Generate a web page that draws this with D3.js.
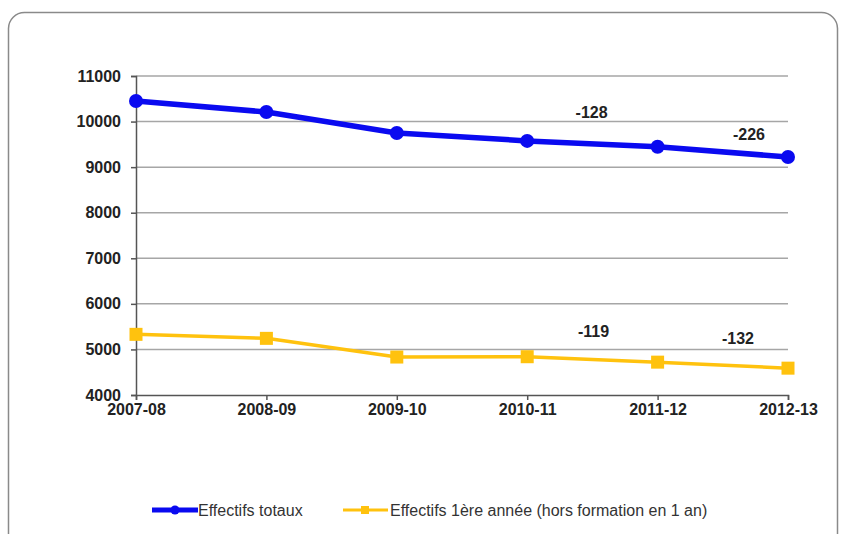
<!DOCTYPE html>
<html><head><meta charset="utf-8">
<script src="https://cdn.jsdelivr.net/npm/d3@7"></script>
<style>body{margin:0;background:#fff;font-family:"Liberation Sans",Arial,sans-serif;}</style>
</head><body>
<svg id="c" width="846" height="534"></svg>
<script>
const categories = ["2007-08","2008-09","2009-10","2010-11","2011-12","2012-13"];
const totalValues = [10452, 10210, 9750, 9576, 9448, 9222];
const firstYearValues = [5331, 5243, 4833, 4840, 4721, 4589];
const yTicks = [4000,5000,6000,7000,8000,9000,10000,11000];
const seriesNames = ["Effectifs totaux","Effectifs 1ère année (hors formation en 1 an)"];
const annotations = [
  {text:"-128", cat:"2011-12", value:10078, dx:-66},
  {text:"-226", cat:"2012-13", value:9596, dx:-39},
  {text:"-119", cat:"2011-12", value:5273, dx:-64},
  {text:"-132", cat:"2012-13", value:5119, dx:-50}
];

const svg = d3.select("#c");
svg.append("rect").attr("x",8.5).attr("y",12.5).attr("width",829).attr("height",540)
  .attr("rx",16).attr("fill","#fff").attr("stroke","#8a8a8a").attr("stroke-width",1.5);

const x = d3.scalePoint().domain(categories).range([136,788]);
const y = d3.scaleLinear().domain([4000,11000]).range([395,76]);
const font = "Liberation Sans, Arial, sans-serif";

svg.append("g").selectAll("line").data(yTicks.filter(d=>d>4000)).join("line")
  .attr("x1",136).attr("x2",788).attr("y1",d=>y(d)).attr("y2",d=>y(d))
  .attr("stroke","#a6a6a6").attr("stroke-width",1.5);

const yAxis = svg.append("g").attr("transform","translate(136,0)")
  .call(d3.axisLeft(y).tickValues(yTicks).tickSize(5).tickPadding(10).tickFormat(d3.format("d")));
yAxis.select(".domain").attr("stroke","#555").attr("stroke-width",1.5);
yAxis.selectAll(".tick line").attr("stroke","#555").attr("stroke-width",1.5);
yAxis.selectAll("text").attr("font-size",16).attr("font-weight","bold").attr("fill","#222")
  .attr("font-family",font);

const xAxis = svg.append("g").attr("transform","translate(0,395)")
  .call(d3.axisBottom(x).tickSize(5).tickPadding(4));
xAxis.select(".domain").attr("stroke","#555").attr("stroke-width",1.5);
xAxis.selectAll(".tick line").attr("stroke","#555").attr("stroke-width",1.5);
xAxis.selectAll("text").attr("font-size",16).attr("font-weight","bold").attr("fill","#222")
  .attr("font-family",font);

const line = d3.line().x((d,i)=>x(categories[i])).y(d=>y(d));
const blue = "#0a0af0", yellow = "#ffc20e";

svg.append("path").datum(firstYearValues).attr("d",line).attr("fill","none")
  .attr("stroke",yellow).attr("stroke-width",3.5).attr("stroke-linejoin","round");
svg.append("g").selectAll("rect").data(firstYearValues).join("rect")
  .attr("x",(d,i)=>x(categories[i])-6.5).attr("y",d=>y(d)-6.5)
  .attr("width",13).attr("height",13).attr("fill",yellow);

svg.append("path").datum(totalValues).attr("d",line).attr("fill","none")
  .attr("stroke",blue).attr("stroke-width",5.5).attr("stroke-linejoin","round");
svg.append("g").selectAll("circle").data(totalValues).join("circle")
  .attr("cx",(d,i)=>x(categories[i])).attr("cy",d=>y(d)).attr("r",7).attr("fill",blue);

svg.append("g").selectAll("text").data(annotations).join("text")
  .attr("x",d=>x(d.cat)+d.dx).attr("y",d=>y(d.value))
  .attr("text-anchor","middle").attr("font-size",16).attr("font-weight","bold").attr("fill","#222")
  .attr("font-family",font).text(d=>d.text);

const lg = svg.append("g").attr("font-family",font);
lg.append("line").attr("x1",152).attr("x2",198).attr("y1",510).attr("y2",510).attr("stroke",blue).attr("stroke-width",5);
lg.append("circle").attr("cx",175).attr("cy",510).attr("r",4.5).attr("fill",blue);
lg.append("text").attr("x",198).attr("y",516).attr("font-size",16).attr("fill","#333").text(seriesNames[0]);
lg.append("line").attr("x1",343).attr("x2",388).attr("y1",510).attr("y2",510).attr("stroke",yellow).attr("stroke-width",3);
lg.append("rect").attr("x",361).attr("y",506).attr("width",8).attr("height",8).attr("fill",yellow);
lg.append("text").attr("x",390).attr("y",516).attr("font-size",16).attr("fill","#333").text(seriesNames[1]);
</script>
</body></html>
